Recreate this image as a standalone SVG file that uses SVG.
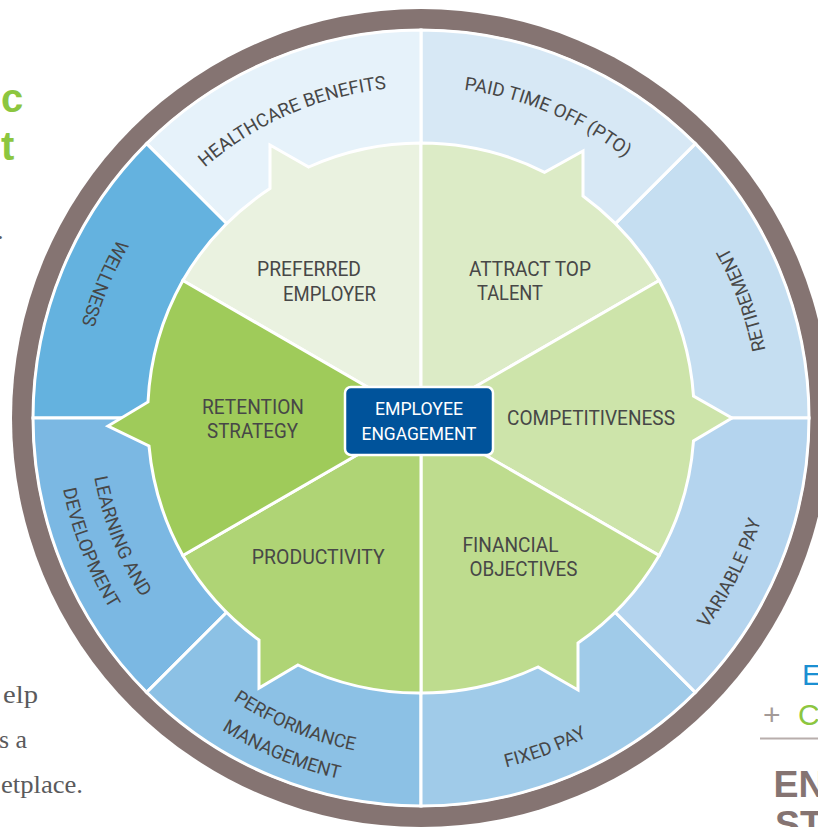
<svg xmlns="http://www.w3.org/2000/svg" width="818" height="827" viewBox="0 0 818 827">
<style>
.seg{stroke:#fff;stroke-width:3;stroke-linejoin:miter}
.lbl{font-family:Roboto,"Liberation Sans",sans-serif;font-size:19.5px;fill:#474747;text-anchor:middle}
.ring{font-family:Roboto,"Liberation Sans",sans-serif;font-size:18.5px;fill:#474747;text-anchor:middle}
.core{font-family:Roboto,"Liberation Sans",sans-serif;font-size:18px;fill:#fff;text-anchor:middle}
.serif{font-family:"Liberation Serif",serif;font-size:26px;fill:#5a5a5c}
.side{font-family:"Liberation Sans",sans-serif}
</style>
<defs>
<path id="p-hc" d="M155.3,220.7 A331,331 0 0 1 459.0,89.2"/>
<path id="p-pto" d="M379.5,89.6 A331,331 0 0 1 684.6,217.9"/>
<path id="p-ret" d="M766.9,477.7 A351,351 0 0 0 645.7,148.3"/>
<path id="p-var" d="M616.4,714.4 A355,355 0 0 0 775.4,396.9"/>
<path id="p-fix" d="M362.3,772.7 A359.5,359.5 0 0 0 698.8,646.2"/>
<path id="p-perf1" d="M152.0,624.4 A339,339 0 0 0 465.2,754.1"/>
<path id="p-perf2" d="M126.7,642.2 A370,370 0 0 0 468.0,785.0"/>
<path id="p-ld1" d="M92.7,368.9 A332,332 0 0 0 214.3,677.8"/>
<path id="p-ld2" d="M60.1,363.4 A365,365 0 0 0 193.3,703.2"/>
<path id="p-well" d="M209.2,136.9 A352,352 0 0 0 71.6,460.9"/>
</defs>
<rect width="818" height="827" fill="#fff"/>

<g id="page-fragments">
<text class="side" x="1" y="112" font-size="40" font-weight="bold" fill="#8cc63f">c</text>
<text class="side" x="1" y="160" font-size="40" font-weight="bold" fill="#8cc63f">t</text>
<text class="serif" x="-3" y="238.5" font-size="22">.</text>
<text class="serif" x="3" y="703" textLength="35" lengthAdjust="spacingAndGlyphs">elp</text>
<text class="serif" x="-1" y="748" textLength="28" lengthAdjust="spacingAndGlyphs">s a</text>
<text class="serif" x="1" y="793" textLength="82" lengthAdjust="spacingAndGlyphs">etplace.</text>
<text class="side" x="802" y="685" font-size="30" fill="#1b8fd2">E</text>
<text class="side" x="763" y="725" font-size="30" fill="#a39a98">+</text>
<text class="side" x="798" y="725" font-size="30" fill="#8cc63f">C</text>
<line x1="760" y1="738.5" x2="818" y2="738.5" stroke="#b8aeac" stroke-width="2"/>
<text class="side" x="773.5" y="797" font-size="37.5" font-weight="bold" fill="#857472">EN</text>
<text class="side" x="775" y="837" font-size="37.5" font-weight="bold" fill="#857472">ST</text>
</g>

<g id="frame">
<circle cx="421" cy="418" r="409" fill="#857472"/>
<circle cx="421" cy="418" r="389" fill="#fff"/>
</g>

<g id="retirement">
<path class="seg" fill="#c5def1" d="M421,418 L809,418 A388,388 0 0 0 695.36,143.64 Z"/>
<text class="ring"><textPath href="#p-ret" startOffset="50%">RETIREMENT</textPath></text>
</g>
<g id="paid-time-off">
<path class="seg" fill="#d7e8f5" d="M421,418 L695.36,143.64 A388,388 0 0 0 421,30 Z"/>
<text class="ring" font-size="19.5"><textPath href="#p-pto" startOffset="50%">PAID TIME OFF (PTO)</textPath></text>
</g>
<g id="healthcare-benefits">
<path class="seg" fill="#e6f2fa" d="M421,418 L421,30 A388,388 0 0 0 146.64,143.64 Z"/>
<text class="ring"><textPath href="#p-hc" startOffset="50%">HEALTHCARE BENEFITS</textPath></text>
</g>
<g id="wellness">
<path class="seg" fill="#64b2df" d="M421,418 L146.64,143.64 A388,388 0 0 0 33,418 Z"/>
<text class="ring"><textPath href="#p-well" startOffset="50%">WELLNESS</textPath></text>
</g>
<g id="learning-development">
<path class="seg" fill="#7bb8e3" d="M421,418 L33,418 A388,388 0 0 0 146.64,692.36 Z"/>
<text class="ring"><textPath href="#p-ld1" startOffset="50%">LEARNING AND</textPath></text>
<text class="ring"><textPath href="#p-ld2" startOffset="50%">DEVELOPMENT</textPath></text>
</g>
<g id="performance-management">
<path class="seg" fill="#8cc1e5" d="M421,418 L146.64,692.36 A388,388 0 0 0 421,806 Z"/>
<text class="ring"><textPath href="#p-perf1" startOffset="50%">PERFORMANCE</textPath></text>
<text class="ring"><textPath href="#p-perf2" startOffset="50%">MANAGEMENT</textPath></text>
</g>
<g id="fixed-pay">
<path class="seg" fill="#a0cbe9" d="M421,418 L421,806 A388,388 0 0 0 695.36,692.36 Z"/>
<text class="ring"><textPath href="#p-fix" startOffset="50%">FIXED PAY</textPath></text>
</g>
<g id="variable-pay">
<path class="seg" fill="#b4d4ee" d="M421,418 L695.36,692.36 A388,388 0 0 0 809,418 Z"/>
<text class="ring"><textPath href="#p-var" startOffset="50%">VARIABLE PAY</textPath></text>
</g>

<g id="preferred-employer">
<path class="seg" fill="#eaf2e0" d="M421,418 L421,143 A275,275 0 0 0 308.7,167 L270,145 L270,188.5 A275,275 0 0 0 182.84,280.5 Z"/>
<text class="lbl" x="309" y="276" textLength="104" lengthAdjust="spacingAndGlyphs">PREFERRED</text>
<text class="lbl" x="329.5" y="300.5" textLength="93" lengthAdjust="spacingAndGlyphs">EMPLOYER</text>
</g>
<g id="attract-top-talent">
<path class="seg" fill="#dcebc6" d="M421,418 L659.16,280.5 A275,275 0 0 0 583,196 L583,151 L544.6,172.3 A275,275 0 0 0 421,143 Z"/>
<text class="lbl" x="530" y="276" textLength="122" lengthAdjust="spacingAndGlyphs">ATTRACT TOP</text>
<text class="lbl" x="510" y="300" textLength="66" lengthAdjust="spacingAndGlyphs">TALENT</text>
</g>
<g id="competitiveness">
<path class="seg" fill="#cde4aa" d="M421,418 L659.16,555.5 A275,275 0 0 0 693.5,441 L732,418 L693.5,396 A275,275 0 0 0 659.16,280.5 Z"/>
<text class="lbl" x="591" y="424.5" textLength="168" lengthAdjust="spacingAndGlyphs">COMPETITIVENESS</text>
</g>
<g id="financial-objectives">
<path class="seg" fill="#bedc8e" d="M421,418 L421,693 A275,275 0 0 0 538,667 L578,690 L578,643 A275,275 0 0 0 659.16,555.5 Z"/>
<text class="lbl" x="510.5" y="551.7" textLength="96" lengthAdjust="spacingAndGlyphs">FINANCIAL</text>
<text class="lbl" x="523.5" y="575.7" textLength="108" lengthAdjust="spacingAndGlyphs">OBJECTIVES</text>
</g>
<g id="productivity">
<path class="seg" fill="#afd475" d="M421,418 L182.84,555.5 A275,275 0 0 0 259,640 L259,688 L298,665 A275,275 0 0 0 421,693 Z"/>
<text class="lbl" x="318.3" y="564" textLength="133" lengthAdjust="spacingAndGlyphs">PRODUCTIVITY</text>
</g>
<g id="retention-strategy">
<path class="seg" fill="#9fcb5a" d="M421,418 L182.84,280.5 A275,275 0 0 0 148,402 L108,426 L149,446 A275,275 0 0 0 182.84,555.5 Z"/>
<text class="lbl" x="253" y="414" textLength="102" lengthAdjust="spacingAndGlyphs">RETENTION</text>
<text class="lbl" x="252.5" y="438" textLength="91" lengthAdjust="spacingAndGlyphs">STRATEGY</text>
</g>

<g id="employee-engagement">
<rect x="345" y="387" width="148" height="68" rx="6" fill="#00539b" stroke="#fff" stroke-width="2.5"/>
<text class="core" x="419" y="415" textLength="88" lengthAdjust="spacingAndGlyphs">EMPLOYEE</text>
<text class="core" x="419" y="440" textLength="115" lengthAdjust="spacingAndGlyphs">ENGAGEMENT</text>
</g>

<g id="connectors"></g>
</svg>
